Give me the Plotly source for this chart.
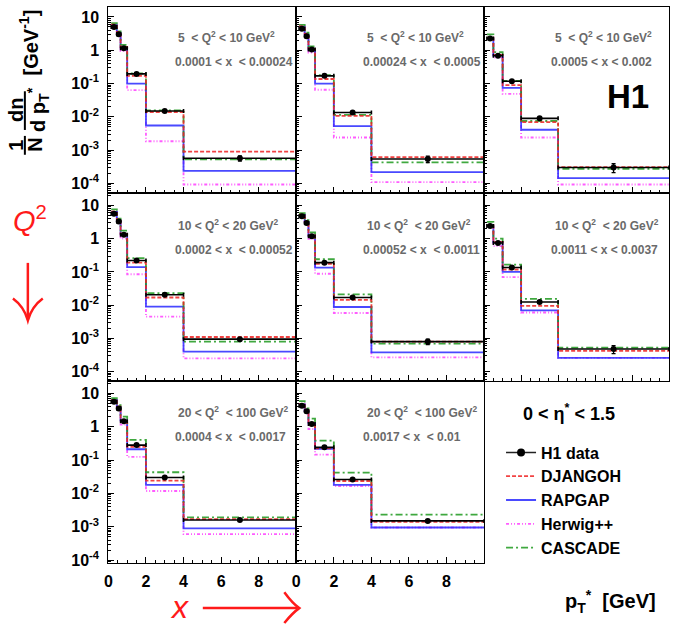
import plotly.graph_objects as go

W, H = 675, 628
FONT = "Liberation Sans"

# pT* bin edges [GeV]; the highest-x bins use a coarser low-pT binning
EDGES_FINE = [0.15, 0.45, 0.65, 1.0, 2.0, 4.0, 10.0]
EDGES_COARSE = [0.15, 0.5, 1.0, 2.0, 4.0, 10.0]

PANEL_EDGES = [EDGES_FINE, EDGES_FINE, EDGES_COARSE,
               EDGES_FINE, EDGES_FINE, EDGES_COARSE,
               EDGES_FINE, EDGES_FINE]

Q2_RANGES = ["5 \u00a0< Q<sup>2</sup> < 10 GeV<sup>2</sup>",
             "5 \u00a0< Q<sup>2</sup> < 10 GeV<sup>2</sup>",
             "5 \u00a0< Q<sup>2</sup> < 10 GeV<sup>2</sup>",
             "10 < Q<sup>2</sup> < 20 GeV<sup>2</sup>",
             "10 < Q<sup>2</sup> \u00a0< 20 GeV<sup>2</sup>",
             "10 < Q<sup>2</sup> \u00a0< 20 GeV<sup>2</sup>",
             "20 < Q<sup>2</sup> \u00a0< 100 GeV<sup>2</sup>",
             "20 < Q<sup>2</sup> \u00a0< 100 GeV<sup>2</sup>"]

X_RANGES = ["0.0001 < x \u00a0< 0.00024",
            "0.00024 < x \u00a0< 0.0005",
            "0.0005 < x < 0.002",
            "0.0002 < x \u00a0< 0.00052",
            "0.00052 < x \u00a0< 0.0011",
            "0.0011 < x < 0.0037",
            "0.0004 < x \u00a0< 0.0017",
            "0.0017 < x \u00a0< 0.01"]

# 1/N dn/dpT* [GeV^-1], one list per (Q2, x) bin
H1_VALUES = [[5.0, 3.0, 1.15, 0.195, 0.0150, 5.7e-4],
             [4.4, 2.65, 1.05, 0.17, 0.0135, 5.4e-4],
             [2.27, 0.68, 0.117, 9.0e-3, 3.0e-4],
             [5.6, 3.3, 1.3, 0.22, 0.0205, 9.5e-4],
             [4.7, 2.95, 1.18, 0.19, 0.017, 8.0e-4],
             [2.4, 0.74, 0.135, 0.0125, 4.8e-4],
             [5.6, 3.5, 1.45, 0.28, 0.030, 1.6e-3],
             [4.2, 2.9, 1.2, 0.24, 0.026, 1.5e-3]]

H1_ERRORS = [[0.15, 0.09, 0.04, 0.007, 6e-4, 1.0e-4],
             [0.13, 0.08, 0.04, 0.006, 5e-4, 1.2e-4],
             [0.07, 0.03, 0.005, 4e-4, 9e-5],
             [0.17, 0.10, 0.05, 0.008, 8e-4, 1.0e-4],
             [0.14, 0.09, 0.04, 0.007, 7e-4, 1.5e-4],
             [0.08, 0.03, 0.006, 6e-4, 1.3e-4],
             [0.17, 0.11, 0.05, 0.010, 1.2e-3, 1.5e-4],
             [0.13, 0.09, 0.04, 0.008, 1.0e-3, 1.2e-4]]

DJANGOH = [[5.9, 3.5, 1.25, 0.17, 0.0140, 9.0e-4],
           [5.2, 3.1, 1.1, 0.137, 0.0107, 6.2e-4],
           [2.4, 0.72, 0.09, 6.9e-3, 3.1e-4],
           [6.5, 3.6, 1.4, 0.19, 0.017, 1.1e-3],
           [5.3, 3.3, 1.25, 0.175, 0.0145, 8.0e-4],
           [2.55, 0.8, 0.118, 9.5e-3, 4.2e-4],
           [6.3, 4.0, 1.6, 0.25, 0.024, 1.7e-3],
           [4.7, 3.1, 1.3, 0.225, 0.0235, 1.4e-3]]

RAPGAP = [[5.7, 3.4, 1.2, 0.10, 5.5e-3, 2.4e-4],
          [5.1, 3.0, 1.05, 0.10, 5.3e-3, 2.2e-4],
          [2.35, 0.70, 0.074, 4.1e-3, 1.45e-4],
          [6.4, 3.5, 1.35, 0.14, 9.0e-3, 4.0e-4],
          [5.2, 3.2, 1.2, 0.135, 8.8e-3, 3.8e-4],
          [2.5, 0.78, 0.10, 7.0e-3, 2.6e-4],
          [6.2, 3.9, 1.55, 0.21, 0.018, 9.0e-4],
          [4.6, 3.0, 1.25, 0.215, 0.018, 9.5e-4]]

HERWIG = [[5.9, 3.4, 0.95, 0.063, 1.85e-3, 9.3e-5],
          [5.2, 3.0, 0.85, 0.065, 2.4e-3, 1.1e-4],
          [2.3, 0.6, 0.049, 2.4e-3, 9.3e-5],
          [6.5, 3.5, 1.0, 0.085, 4.5e-3, 2.5e-4],
          [5.3, 3.2, 0.98, 0.088, 5.8e-3, 2.7e-4],
          [2.45, 0.6, 0.07, 6.0e-3, 2.6e-4],
          [6.3, 3.9, 1.15, 0.125, 0.0118, 6.0e-4],
          [4.7, 3.0, 0.85, 0.145, 0.0165, 9.5e-4]]

CASCADE = [[6.5, 3.7, 1.45, 0.20, 0.0155, 5.3e-4],
           [5.8, 3.4, 1.3, 0.18, 0.0115, 4.3e-4],
           [3.0, 0.88, 0.12, 7.5e-3, 2.75e-4],
           [7.6, 4.0, 1.75, 0.26, 0.023, 8.0e-4],
           [5.9, 3.6, 1.55, 0.24, 0.021, 7.0e-4],
           [3.2, 1.0, 0.165, 0.0155, 5.3e-4],
           [7.1, 4.4, 2.0, 0.40, 0.043, 1.9e-3],
           [5.8, 3.5, 1.75, 0.38, 0.042, 2.3e-3]]

Y_TICKS = [1e-4, 1e-3, 1e-2, 1e-1, 1, 10]
Y_TICKTEXT = ["10<sup>-4</sup>", "10<sup>-3</sup>", "10<sup>-2</sup>",
              "10<sup>-1</sup>", "1", "10"]
X_TICKS = [0, 2, 4, 6, 8]
X_TICKS_EDGE = [0, 2, 4, 6, 8, 10]

# generator curves: (name, values, colour, dash, legend rank)
MODELS = [("Herwig++", HERWIG, "#ff40ff", "3px,2px,1px,2px,1px,2px", 4),
          ("RAPGAP", RAPGAP, "#2a2aff", "solid", 3),
          ("CASCADE", CASCADE, "#1f9a1f", "7px,3px,2px,3px", 5),
          ("DJANGOH", DJANGOH, "#ee2222", "4px,2px", 2)]

# pad geometry in pixels
COL_PX = [(105, 294), (294, 483), (483, 669)]
ROW_PX = [(7, 195), (195, 384), (384, 568)]
ROW_LOGRANGE = [(-4.3, 1.3), (-4.28, 1.36), (-4.1, 1.37)]


def px(x):
    return x / W


def py(y):
    return 1 - y / H


def suffix(i):
    return "" if i == 0 else str(i + 1)


fig = go.Figure()

# legend-only entry for the data (marker with a horizontal bar)
fig.add_trace(go.Scatter(
    x=[None], y=[None], mode="lines+markers", name="H1 data",
    line=dict(color="#222222", width=1.5),
    marker=dict(color="black", size=8), legendrank=1, showlegend=True))

for i, edges in enumerate(PANEL_EDGES):
    s = suffix(i)
    for name, vals, color, dash, rank in MODELS:
        v = vals[i]
        fig.add_trace(go.Scatter(
            x=edges, y=v + [v[-1]], mode="lines", line_shape="hv",
            line=dict(color=color, width=1.8, dash=dash), opacity=0.85,
            name=name, legendrank=rank, showlegend=(i == 0),
            xaxis="x" + s, yaxis="y" + s, hoverinfo="skip"))
    centers = [(a + b) / 2 for a, b in zip(edges[:-1], edges[1:])]
    halfw = [(b - a) / 2 for a, b in zip(edges[:-1], edges[1:])]
    fig.add_trace(go.Scatter(
        x=centers, y=H1_VALUES[i], mode="markers", name="H1 data",
        marker=dict(color="black", size=6),
        error_x=dict(type="data", array=halfw, color="black",
                     thickness=1.6, width=2),
        error_y=dict(type="data", array=H1_ERRORS[i], color="black",
                     thickness=1.3, width=2),
        showlegend=False, xaxis="x" + s, yaxis="y" + s))

layout = dict(
    width=W, height=H, margin=dict(l=0, r=0, t=0, b=0),
    paper_bgcolor="white", plot_bgcolor="white",
    font=dict(family=FONT, color="black"),
    showlegend=True,
    legend=dict(x=px(500), y=py(439), xanchor="left", yanchor="top",
                bgcolor="rgba(0,0,0,0)", borderwidth=0,
                font=dict(family=FONT, size=16, color="black", weight="bold"),
                traceorder="normal", itemwidth=30),
)

tickfont = dict(family=FONT, size=16, color="black", weight="bold")

for k in range(9):
    r, c = divmod(k, 3)
    s = suffix(k)
    x0, x1 = COL_PX[c]
    y0, y1 = ROW_PX[r]
    xa = dict(domain=[px(x0), px(x1)], range=[0, 10], anchor="y" + s,
              showline=True, mirror=True, linecolor="black", linewidth=1.2,
              ticks="inside", ticklen=6, tickwidth=1, tickcolor="black",
              tickvals=X_TICKS_EDGE if c == 2 else X_TICKS,
              showticklabels=(r == 2), tickfont=tickfont,
              ticklabelstandoff=3,
              minor=dict(ticks="inside", ticklen=3, dtick=0.5,
                         tickcolor="black", showgrid=False),
              showgrid=False, zeroline=False, fixedrange=True)
    if k < 8:
        lo, hi = ROW_LOGRANGE[r]
        ya = dict(domain=[py(y1), py(y0)], type="log", range=[lo, hi],
                  anchor="x" + s, showline=True, mirror=True,
                  linecolor="black", linewidth=1.2,
                  ticks="inside", ticklen=6, tickwidth=1, tickcolor="black",
                  tickvals=Y_TICKS, ticktext=Y_TICKTEXT,
                  showticklabels=(c == 0), tickfont=tickfont,
                  ticklabelstandoff=5,
                  minor=dict(ticks="inside", ticklen=3, dtick="D1",
                             tickcolor="black", showgrid=False),
                  showgrid=False, zeroline=False, fixedrange=True)
    else:
        ya = dict(domain=[py(y1), py(y0)], range=[0, 1], anchor="x" + s,
                  showline=True, mirror=True, linecolor="black",
                  linewidth=1.2, ticks="", showticklabels=False,
                  showgrid=False, zeroline=False, fixedrange=True)
    layout["xaxis" + s] = xa
    layout["yaxis" + s] = ya

annotations = []
shapes = []


def note(x, y, text, font, xanchor="center", angle=0):
    annotations.append(dict(x=px(x), y=py(y), xref="paper", yref="paper",
                            text=text, showarrow=False, xanchor=xanchor,
                            yanchor="middle", textangle=angle, font=font))


# bin labels inside each pad
LABEL_POS = [(173, 37, 170, 63), (363, 37, 359, 63), (552, 37, 548, 63),
             (173, 227, 170, 252), (363, 227, 359, 252), (552, 227, 548, 252),
             (173, 415, 170, 441), (363, 415, 359, 441)]
panel_font = dict(family=FONT, size=12, color="#6a6a6a", weight="bold")
for i, (qx, qy, xx, xy) in enumerate(LABEL_POS):
    note(qx, qy, Q2_RANGES[i], panel_font, xanchor="left")
    note(xx, xy, X_RANGES[i], panel_font, xanchor="left")


def bold(size, color="black"):
    return dict(family=FONT, size=size, color=color, weight="bold")


# H1 logo and eta* range
note(628, 97, "H1", bold(33))
note(568, 416, "0 < \u03b7<sup>*</sup> < 1.5", bold(18))

# x-axis title
note(610, 606, "p<sub>T</sub><sup>*</sup> \u00a0[GeV]", bold(20))

# y-axis title: 1/N dn/dpT* [GeV^-1], rotated
for txt, x, y in [("1", 12, 146), ("N", 31, 146), ("dn", 12, 111),
                  ("d p<sub>T</sub><sup>*</sup>", 34, 110),
                  ("[GeV<sup>-1</sup>]", 25, 43)]:
    note(x, y, txt, bold(20), angle=-90)
for (ya_, yb_) in [(137, 156), (92, 131)]:
    shapes.append(dict(type="line", xref="paper", yref="paper",
                       x0=px(21), x1=px(21), y0=py(ya_), y1=py(yb_),
                       line=dict(color="black", width=2)))

# red arrows: Q2 increases downward, x increases to the right
red = "#ff1a1a"
note(26, 221, "<i>Q</i><sup>2</sup>", dict(family=FONT, size=29, color=red))
note(177, 612, "<i>x</i>", dict(family=FONT, size=32, color=red))


def P(x, y):
    return f"{px(x):.5f},{py(y):.5f}"


shapes.append(dict(type="line", xref="paper", yref="paper",
                   x0=px(24), x1=px(24), y0=py(265), y1=py(322),
                   line=dict(color=red, width=2.5)))
shapes.append(dict(type="path", xref="paper", yref="paper",
                   path=f"M {P(9, 301)} Q {P(20, 309)} {P(24, 323)} "
                        f"Q {P(28, 309)} {P(39, 301)}",
                   line=dict(color=red, width=2.5)))
shapes.append(dict(type="line", xref="paper", yref="paper",
                   x0=px(200), x1=px(295), y0=py(613), y1=py(613),
                   line=dict(color=red, width=2.5)))
shapes.append(dict(type="path", xref="paper", yref="paper",
                   path=f"M {P(282, 597)} Q {P(290, 608)} {P(297, 613)} "
                        f"Q {P(290, 618)} {P(282, 628)}",
                   line=dict(color=red, width=2.5)))

layout["annotations"] = annotations
layout["shapes"] = shapes
fig.update_layout(**layout)

fig.write_html("out.html")
